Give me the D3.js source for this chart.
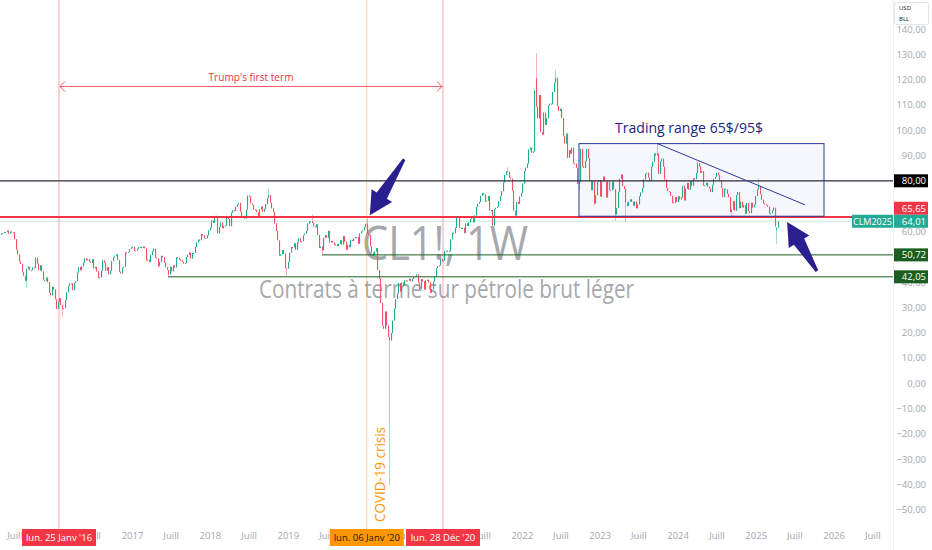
<!DOCTYPE html>
<html><head><meta charset="utf-8">
<script src="https://cdn.jsdelivr.net/npm/d3@7"></script>
<style>
body{margin:0;background:#fff;}
svg{display:block;}
text{font-family:"Open Sans","Noto Sans",sans-serif;}
</style>
</head><body>
<svg id="chart" width="932" height="550"></svg>
<script>
// ---------------- DATA ----------------
// Weekly closes of CL1! (each array starts on the Monday listed in yearStarts)
const yearStarts = ["2015-04-27","2016-01-04","2017-01-02","2018-01-01","2018-12-31","2020-01-06","2021-01-04","2022-01-03","2023-01-02","2024-01-01","2025-01-06"];
const firstOpen = 58.9;
const close2015 = [59.15,59.39,59.69,59.72,60.30,59.13,59.96,59.61,59.63,56.93,52.74,50.89,48.14,47.12,43.87,42.50,40.45,45.22,46.05,44.63,44.68,45.70,45.54,49.63,47.26,44.60,46.59,44.29,40.74,40.39,41.71,39.97,35.62,34.73,38.10,37.04];
const close2016 = [33.16,29.42,32.19,33.62,30.89,29.44,29.64,32.78,35.92,38.50,39.44,39.46,36.79,39.72,40.36,43.73,45.92,44.66,46.21,47.75,49.33,48.62,49.07,47.98,47.64,48.99,45.41,45.95,44.19,41.60,41.80,44.49,48.52,47.64,44.44,45.88,43.03,44.48,48.24,49.81,50.35,50.85,48.70,44.07,43.41,45.69,46.06,51.68,51.50,51.90,53.02,53.72];
const close2017 = [53.99,52.37,52.42,53.17,53.83,53.86,53.40,53.99,53.33,48.49,48.78,47.97,50.60,52.24,53.18,49.62,49.33,46.22,47.84,50.33,49.80,47.66,45.83,44.68,43.01,46.04,44.23,46.54,45.77,49.71,49.58,48.82,48.51,47.87,47.29,47.48,49.89,50.66,51.67,49.29,51.45,51.47,53.90,55.64,56.74,56.55,58.95,58.36,57.36,57.30,58.47,60.42];
const close2018 = [61.44,64.30,63.37,66.14,65.45,59.20,61.68,63.55,61.25,62.04,62.34,65.88,64.94,62.06,67.39,68.38,68.10,69.72,70.70,71.28,67.88,65.81,65.74,65.06,68.58,74.15,73.80,71.01,70.46,68.69,68.49,67.63,65.91,68.72,69.80,67.75,68.99,70.78,73.25,74.34,71.34,69.12,67.59,63.14,60.19,56.46,50.42,50.93,52.61,51.20,45.59,45.33];
const close2019 = [47.96,51.59,53.80,53.69,55.26,52.72,55.59,57.26,55.80,56.07,58.52,59.04,60.14,63.08,63.89,64.00,63.30,61.94,61.66,62.76,58.63,53.50,53.99,52.51,57.43,58.47,57.51,60.21,55.63,56.20,55.66,54.50,54.87,54.17,55.10,56.52,54.85,58.09,55.91,52.81,54.70,53.78,56.66,56.20,57.24,57.72,57.77,55.17,59.20,60.07,60.44,61.72,63.05];
const close2020 = [59.04,58.54,54.19,51.56,50.32,52.05,53.38,44.76,41.28,31.73,22.63,21.51,28.34,22.76,18.27,16.94,19.78,24.74,29.43,33.25,35.49,39.55,36.26,39.75,38.49,40.65,40.55,40.59,41.29,40.27,41.22,42.01,42.34,42.97,39.77,37.33,41.11,40.25,37.05,40.60,40.88,39.85,35.79,37.14,40.13,42.15,45.53,46.26,46.57,49.10,48.23,48.52];
const close2021 = [52.24,52.36,52.27,52.20,56.85,59.47,59.24,61.50,66.09,65.61,61.42,60.97,61.45,59.32,63.13,62.14,63.58,64.90,65.37,63.58,66.32,69.62,70.91,71.64,74.05,75.16,74.56,71.81,72.07,73.95,68.28,68.44,62.32,68.74,69.29,69.72,71.97,73.98,75.88,79.35,82.28,83.76,83.57,81.27,80.79,76.10,68.15,66.26,71.67,70.86,73.79,75.21];
const close2022 = [78.90,83.82,85.14,86.82,92.31,93.10,91.07,91.59,115.68,109.33,104.70,113.90,99.27,98.26,106.95,102.07,104.69,109.77,110.49,110.28,115.07,118.87,120.67,109.56,107.62,108.43,104.79,97.59,94.70,98.62,89.01,92.09,90.77,93.06,86.87,86.79,85.11,78.74,79.49,92.64,85.61,85.05,87.90,92.61,88.96,80.08,76.28,79.98,71.02,74.29,79.56,80.26];
const close2023 = [73.77,79.86,81.64,79.68,73.39,79.72,76.34,76.32,79.68,76.68,66.74,69.26,75.67,80.70,82.52,77.87,76.78,71.34,70.04,71.69,72.67,71.74,70.17,71.78,69.16,70.64,73.86,75.42,77.07,80.58,82.82,83.19,81.25,79.83,85.55,87.51,90.77,90.03,90.79,82.79,87.69,88.75,85.54,80.51,77.17,75.89,75.54,74.07,71.23,71.43,73.56,71.65];
const close2024 = [73.81,72.68,73.41,78.01,72.28,76.84,79.19,76.49,79.97,78.01,81.04,80.63,83.17,86.91,85.66,83.14,83.85,78.11,78.26,79.23,77.72,76.99,75.53,78.45,80.73,81.54,83.16,82.21,80.13,77.16,73.52,76.84,76.65,74.83,73.55,67.67,68.65,71.92,68.18,74.38,75.56,69.22,71.78,69.49,70.38,67.02,71.24,68.00,67.20,71.29,69.46,70.60,73.96];
const close2025 = [76.57,77.88,74.66,72.53,71.00,70.74,70.40,69.76,67.04,67.18,68.28,69.36,61.99,61.50,64.01];
// notable weekly extremes: [week, open, high, low]
const extremes = [
  ["2015-08-24",null,null,37.75],["2016-02-08",null,null,26.05],["2017-06-19",null,null,42.05],
  ["2018-10-01",null,76.90,null],["2018-12-24",null,null,42.36],["2019-04-22",null,66.60,null],
  ["2019-06-10",null,null,50.72],["2020-01-06",null,65.65,null],["2020-04-20",null,null,-40.32],
  ["2021-10-25",null,85.41,null],["2022-03-07",120.5,130.50,null],["2022-06-06",null,123.68,null],
  ["2022-09-26",null,null,76.25],["2022-12-05",null,null,70.08],["2023-03-13",null,null,64.12],
  ["2023-05-01",null,null,63.57],["2023-09-25",null,95.03,null],["2024-04-01",null,87.67,null],
  ["2024-09-09",null,null,65.27],["2025-01-13",null,80.77,null],["2025-04-07",60.6,null,55.12]
];
const yTickValues = [-50,-40,-30,-20,-10,0,10,20,30,40,50,60,70,80,90,100,110,120,130,140];
const yearTicks = ["2016","2017","2018","2019","2020","2021","2022","2023","2024","2025","2026"];
const julyTicks = ["2015","2016","2017","2018","2019","2020","2021","2022","2023","2024","2025","2026"];
const julyLabel = "Juill";
const eventDates = ["2016-01-25","2020-01-06","2020-12-28"];
const eventLabels = ["lun. 25 Janv '16","lun. 06 Janv '20","lun. 28 Déc '20"];
const resistance = 80.00, janHigh = 65.65, lastPrice = 64.01, support1 = 50.72, support2 = 42.05;
const support1Start = "2019-06-10", support2Start = "2017-06-19";
const rangeDates = ["2022-09-26","2025-11-17"], rangePrices = [66.0, 94.7];
const trendDates = ["2023-09-28","2025-08-20"], trendPrices = [94.7, 70.5];
const arrow1 = [["2020-06-29",88.5],["2020-01-20",66.4]];
const arrow2 = [["2025-10-15",44.3],["2025-05-28",63.7]];
const termPrice = 117.3;
const symbolTitle = "CL1!, 1W", symbolDesc = "Contrats à terme sur pétrole brut léger", contractName = "CLM2025";

// ---------------- SETUP ----------------
const W = 932, H = 550, PW = 893, PH = 524;
const parse = d3.utcParse("%Y-%m-%d"), key = d3.utcFormat("%Y-%m-%d");
const DAY = 864e5;
const svg = d3.select("#chart");
const x = d3.scaleUtc().domain([parse(eventDates[0]), parse(eventDates[2])]).range([59, 443]);
const y = d3.scaleLinear().domain([0, 140]).range([383.2, 29]);
const fmtPrice = v => d3.format(".2f")(v).replace(".", ",");

const UP = "#22ab94", DOWN = "#f7525f", RED = "#f23645", ORANGE = "#ff9800", NAVY = "#1a237e", ARROW = "#2a1f8f", DKGREEN = "#1b5e20";

// candles
const yearCloses = [close2015,close2016,close2017,close2018,close2019,close2020,close2021,close2022,close2023,close2024,close2025];
const candles = [];
let prev = firstOpen;
yearCloses.forEach((arr, k) => {
  const s = parse(yearStarts[k]).getTime();
  arr.forEach((c, i) => {
    candles.push({date: new Date(s + i * 7 * DAY), open: prev, close: c});
    prev = c;
  });
});
const ext = new Map(extremes.map(e => [e[0], e]));
candles.forEach(c => {
  const e = ext.get(key(c.date));
  if (e && e[1] != null) c.open = e[1];
  c.high = Math.max(c.open, c.close, e && e[2] != null ? e[2] : -Infinity);
  c.low = Math.min(c.open, c.close, e && e[3] != null ? e[3] : Infinity);
});

svg.append("rect").attr("width", W).attr("height", H).attr("fill", "#fff");
svg.append("clipPath").attr("id", "clip").append("rect").attr("width", PW).attr("height", PH + 6);
const plot = svg.append("g").attr("clip-path", "url(#clip)");

// watermark
plot.append("text").attr("x", 362).attr("y", 260).attr("textLength", 166).attr("lengthAdjust", "spacingAndGlyphs")
  .attr("font-size", 48).attr("fill", "#a6a8ae").text(symbolTitle);
plot.append("text").attr("x", 259).attr("y", 298).attr("textLength", 375).attr("lengthAdjust", "spacingAndGlyphs")
  .attr("font-size", 25).attr("fill", "#a6a8ae").text(symbolDesc);

// vertical event lines
const evColors = [RED, ORANGE, RED], evOp = [0.45, 0.4, 0.45];
eventDates.forEach((d, i) => {
  plot.append("line").attr("x1", x(parse(d))).attr("x2", x(parse(d))).attr("y1", 0).attr("y2", 530)
    .attr("stroke", evColors[i]).attr("stroke-opacity", evOp[i]).attr("stroke-width", 1);
});

// range box fill
const bx0 = x(parse(rangeDates[0])), bx1 = x(parse(rangeDates[1])), by0 = y(rangePrices[1]), by1 = y(rangePrices[0]);
plot.append("rect").attr("x", bx0).attr("y", by0).attr("width", bx1 - bx0).attr("height", by1 - by0)
  .attr("fill", "rgba(33,74,200,0.045)");

// candles
const cg = plot.append("g");
cg.selectAll("line.w").data(candles).join("line").attr("class", "w")
  .attr("x1", d => Math.round(x(d.date)) + 0.5).attr("x2", d => Math.round(x(d.date)) + 0.5)
  .attr("y1", d => y(d.high)).attr("y2", d => y(d.low))
  .attr("stroke", d => d.close >= d.open ? "rgba(34,171,148,0.45)" : "rgba(247,82,95,0.45)").attr("stroke-width", 1);
cg.selectAll("rect.b").data(candles).join("rect").attr("class", "b")
  .attr("x", d => Math.round(x(d.date)))
  .attr("width", 1.1)
  .attr("y", d => y(Math.max(d.open, d.close)))
  .attr("height", d => Math.max(1, Math.abs(y(d.open) - y(d.close))))
  .attr("fill", d => d.close >= d.open ? UP : DOWN);

// horizontal levels
plot.append("line").attr("x1", 0).attr("x2", PW).attr("y1", y(lastPrice)).attr("y2", y(lastPrice))
  .attr("stroke", "rgba(34,171,148,0.25)").attr("stroke-width", 1);
plot.append("line").attr("x1", 0).attr("x2", PW).attr("y1", y(resistance)).attr("y2", y(resistance))
  .attr("stroke", "#2a2e39").attr("stroke-width", 1.3);
plot.append("line").attr("x1", 0).attr("x2", PW).attr("y1", y(janHigh)).attr("y2", y(janHigh))
  .attr("stroke", RED).attr("stroke-width", 2);
plot.append("line").attr("x1", x(parse(support1Start))).attr("x2", PW).attr("y1", y(support1)).attr("y2", y(support1))
  .attr("stroke", DKGREEN).attr("stroke-width", 1);
plot.append("line").attr("x1", x(parse(support2Start))).attr("x2", PW).attr("y1", y(support2)).attr("y2", y(support2))
  .attr("stroke", DKGREEN).attr("stroke-width", 1);

// range box stroke + trendline + label
plot.append("rect").attr("x", bx0).attr("y", by0).attr("width", bx1 - bx0).attr("height", by1 - by0)
  .attr("fill", "none").attr("stroke", "#2b3a9a").attr("stroke-width", 1);
plot.append("line").attr("x1", x(parse(trendDates[0]))).attr("y1", y(trendPrices[0]))
  .attr("x2", x(parse(trendDates[1]))).attr("y2", y(trendPrices[1])).attr("stroke", "#2b3a9a").attr("stroke-width", 1);
plot.append("text").attr("x", 615).attr("y", by0 - 11).attr("textLength", 148).attr("lengthAdjust", "spacingAndGlyphs")
  .attr("font-size", 14.5).attr("fill", NAVY).text("Trading range 65$/95$");

// Trump term arrow
const tx0 = x(parse(eventDates[0])), tx1 = x(parse(eventDates[2])), ty = y(termPrice);
const tg = plot.append("g").attr("stroke", RED).attr("stroke-opacity", 0.85).attr("fill", "none").attr("stroke-width", 1);
tg.append("line").attr("x1", tx0 + 1).attr("x2", tx1 - 1).attr("y1", ty).attr("y2", ty);
tg.append("path").attr("d", `M${tx0 + 6},${ty - 5}L${tx0 + 1},${ty}L${tx0 + 6},${ty + 5}`);
tg.append("path").attr("d", `M${tx1 - 6},${ty - 5}L${tx1 - 1},${ty}L${tx1 - 6},${ty + 5}`);
plot.append("text").attr("x", (tx0 + tx1) / 2 - 42.5).attr("y", ty - 5).attr("textLength", 85).attr("lengthAdjust", "spacingAndGlyphs")
  .attr("font-size", 11).attr("fill", RED).text("Trump's first term");

// COVID label
const cx = x(parse(eventDates[1])) + 18;
plot.append("text").attr("transform", `translate(${cx},${PH - 2}) rotate(-90)`).attr("textLength", 95).attr("lengthAdjust", "spacingAndGlyphs")
  .attr("font-size", 14.5).attr("fill", ORANGE).text("COVID-19 crisis");

// arrows
function arrowPath(a) {
  const T = [x(parse(a[0][0])), y(a[0][1])], P = [x(parse(a[1][0])), y(a[1][1])];
  const dx = P[0] - T[0], dy = P[1] - T[1], L = Math.hypot(dx, dy);
  const ux = dx / L, uy = dy / L, nx = -uy, ny = ux;
  const h = 23, w = 12, s0 = 1.5, s1 = 6;
  const N = [P[0] - ux * h, P[1] - uy * h];
  const pts = [
    [T[0] + nx * s0, T[1] + ny * s0], [N[0] + nx * s1, N[1] + ny * s1], [N[0] + nx * w, N[1] + ny * w], P,
    [N[0] - nx * w, N[1] - ny * w], [N[0] - nx * s1, N[1] - ny * s1], [T[0] - nx * s0, T[1] - ny * s0]
  ];
  return "M" + pts.map(p => p[0].toFixed(1) + "," + p[1].toFixed(1)).join("L") + "Z";
}
plot.append("path").attr("d", arrowPath(arrow1)).attr("fill", ARROW);
plot.append("path").attr("d", arrowPath(arrow2)).attr("fill", ARROW);

// ---------------- AXES ----------------
svg.append("line").attr("x1", PW + 0.5).attr("x2", PW + 0.5).attr("y1", 0).attr("y2", H).attr("stroke", "#eef0f4");

// price labels on right scale (positions; used to hide fully covered ticks)
const priceLabels = [
  {v: resistance, fill: "#000", pos: y(resistance)},
  {v: janHigh, fill: RED, pos: Math.min(y(janHigh), y(lastPrice) - 13)},
  {v: lastPrice, fill: UP, pos: y(lastPrice)},
  {v: support1, fill: DKGREEN, pos: y(support1)},
  {v: support2, fill: DKGREEN, pos: y(support2)}
];
const yAxis = d3.axisRight(y).tickSize(0).tickPadding(0).tickFormat(fmtPrice)
  .tickValues(yTickValues.filter(v => !priceLabels.some(p => Math.abs(p.pos - y(v)) < 4)));
const gy = svg.append("g").attr("transform", `translate(${PW},0)`).call(yAxis);
gy.select(".domain").remove();
gy.selectAll("text").attr("x", 33).attr("text-anchor", "end").attr("fill", "#a3a6af")
  .style("font-size", "9.5px").style("font-family", "'Open Sans',sans-serif");

const xTickDates = yearTicks.map(t => parse(t + "-01-01")).concat(julyTicks.map(t => parse(t + "-07-01")))
  .filter(d => !eventDates.some(e => Math.abs(x(parse(e)) - x(d)) < 20));
const xAxis = d3.axisBottom(x).tickValues(xTickDates).tickSize(0).tickPadding(8)
  .tickFormat(d => d.getUTCMonth() === 6 ? julyLabel : d3.utcFormat("%Y")(d));
const gx = svg.append("g").attr("transform", `translate(0,${PH})`).call(xAxis);
gx.select(".domain").remove();
gx.selectAll("text").attr("fill", "#a3a6af").style("font-size", "9.5px").style("font-family", "'Open Sans',sans-serif");
gx.selectAll(".tick").filter(d => x(d) > PW - 5).remove();

// event date labels
const evFill = [RED, ORANGE, RED], evText = ["#fff", "#131722", "#fff"];
eventDates.forEach((d, i) => {
  const cx2 = x(parse(d));
  svg.append("rect").attr("x", cx2 - 37).attr("y", 529).attr("width", 74).attr("height", 17).attr("fill", evFill[i]);
  svg.append("text").attr("x", cx2).attr("y", 541).attr("text-anchor", "middle").attr("font-size", 9.5)
    .attr("fill", evText[i]).text(eventLabels[i]);
});

priceLabels.forEach(p => {
  svg.append("rect").attr("x", PW + 1).attr("y", p.pos - 6.5).attr("width", 34).attr("height", 13).attr("fill", p.fill);
  svg.append("text").attr("x", 926).attr("y", p.pos + 3.5).attr("text-anchor", "end").attr("font-size", 9.5)
    .attr("fill", "#fff").text(fmtPrice(p.v));
});
svg.append("rect").attr("x", 852).attr("y", y(lastPrice) - 6.5).attr("width", 41).attr("height", 13).attr("fill", UP);
svg.append("text").attr("x", 872.5).attr("y", y(lastPrice) + 3.5).attr("text-anchor", "middle").attr("font-size", 9)
  .attr("fill", "#fff").text(contractName);

// currency / unit box
svg.append("rect").attr("x", 894.5).attr("y", 2.5).attr("width", 34).attr("height", 22).attr("rx", 2)
  .attr("fill", "#fff").attr("stroke", "#e0e3eb");
svg.append("text").attr("x", 899).attr("y", 10).attr("font-size", 6).attr("fill", "#131722").text("USD");
svg.append("text").attr("x", 899).attr("y", 21).attr("font-size", 6).attr("fill", "#131722").text("BLL");
</script>
</body></html>
